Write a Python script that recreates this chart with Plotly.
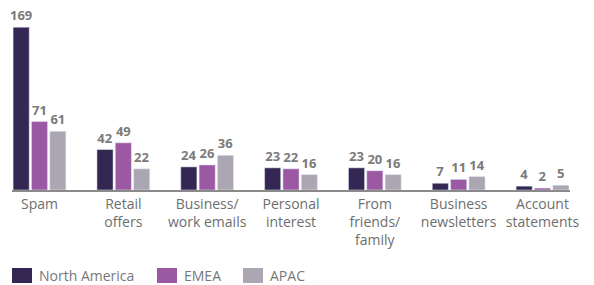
import plotly.graph_objects as go

categories = ["Spam", "Retail<br>offers", "Business/<br>work emails", "Personal<br>interest",
              "From<br>friends/<br>family", "Business<br>newsletters", "Account<br>statements"]
series_names = ["North America", "EMEA", "APAC"]
north_america = [169, 42, 24, 23, 23, 7, 4]
emea = [71, 49, 26, 22, 20, 11, 2]
apac = [61, 22, 36, 16, 16, 14, 5]
colors = ["#342753", "#9b58a3", "#aca6b3"]

W, H = 594, 285
L, R, T, B = 12, 24, 5, 95
pw, ph = W - L - R, H - T - B

fig = go.Figure()
for name, vals, col in zip(series_names, [north_america, emea, apac], colors):
    fig.add_trace(go.Bar(
        x=list(range(len(categories))), y=vals, name=name, marker_color=col,
        text=[str(v) for v in vals], textposition="outside", constraintext="none",
        textfont=dict(family="Open Sans", size=13, color="#7a7a7a", weight="bold"),
        cliponaxis=False, showlegend=False,
    ))

g = 0.656
fig.update_layout(
    width=W, height=H, margin=dict(l=L, r=R, t=T, b=B),
    paper_bgcolor="white", plot_bgcolor="white",
    barmode="group", bargap=1 - g, bargroupgap=0.12,
    xaxis=dict(range=[-g / 2, len(categories) - 1 + g / 2], showline=True, linecolor="#8a8a8a",
               linewidth=1.5, showgrid=False, zeroline=False, ticks="",
               tickmode="array", tickvals=list(range(len(categories))), ticktext=categories,
               tickfont=dict(family="Open Sans", size=14, color="#6e6e6e")),
    yaxis=dict(range=[0, 192], visible=False),
    font=dict(family="Open Sans"),
)

# manual legend
def px_x(x):
    return (x - L) / pw

def px_y(y):
    return (T + ph - y) / ph

legend_x = [12, 157, 243]
for name, col, lx in zip(series_names, colors, legend_x):
    fig.add_shape(type="rect", xref="paper", yref="paper",
                  x0=px_x(lx), x1=px_x(lx + 20), y0=px_y(283), y1=px_y(268),
                  fillcolor=col, line_width=0)
    fig.add_annotation(xref="paper", yref="paper", x=px_x(lx + 25), y=px_y(275.5),
                       xanchor="left", yanchor="middle", showarrow=False, text=name,
                       font=dict(family="Open Sans", size=14, color="#777777"))

fig.write_html("out.html", config={"displayModeBar": False},
               post_script="document.body.style.margin='0';document.body.style.overflow='hidden';")
